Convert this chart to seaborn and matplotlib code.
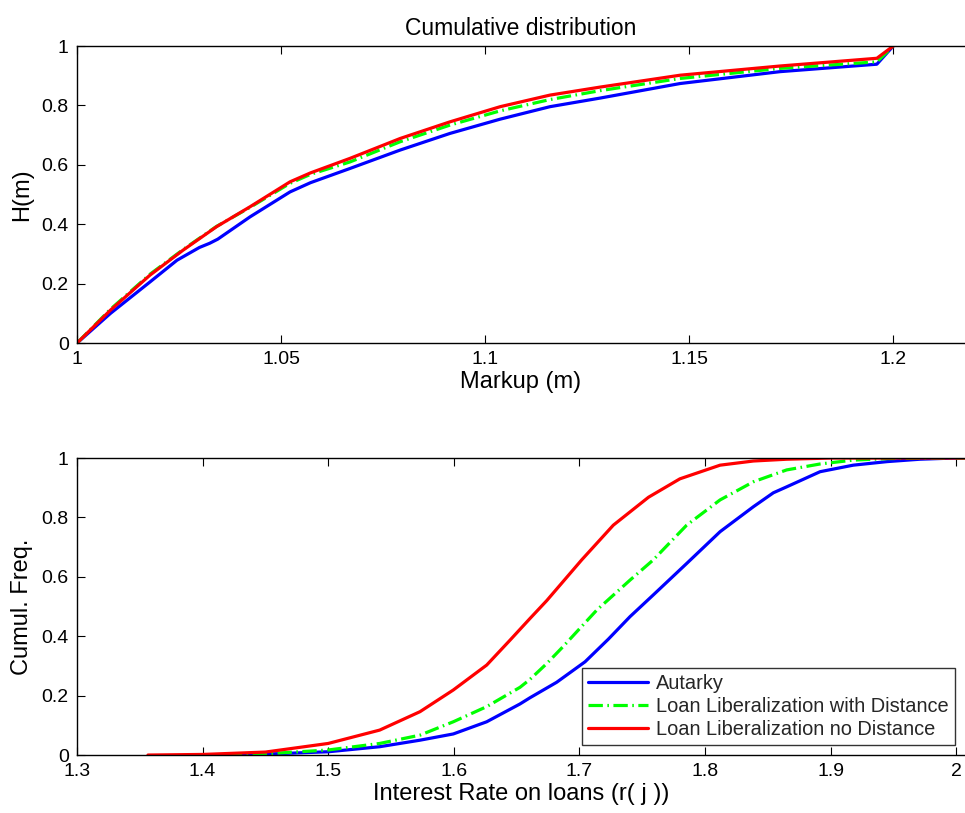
import numpy as np
import pandas as pd
import matplotlib
matplotlib.use("Agg")
import matplotlib.pyplot as plt
import seaborn as sns

# Markup distribution H(m)
markup_autarky = [1.0, 1.0082, 1.0179, 1.0245, 1.030, 1.0325, 1.0345, 1.0424,
                  1.0522, 1.0572, 1.0669, 1.0792, 1.0914, 1.1037, 1.1159, 1.1282,
                  1.1478, 1.1723, 1.196, 1.20]
h_autarky = [0.0, 0.100, 0.206, 0.279, 0.322, 0.336, 0.350, 0.425,
             0.509, 0.540, 0.588, 0.650, 0.706, 0.754, 0.796, 0.825,
             0.874, 0.914, 0.939, 1.0]
markup = [1.0, 1.0082, 1.0179, 1.026, 1.0342, 1.0424, 1.0522, 1.0572, 1.0669,
          1.0792, 1.0914, 1.1037, 1.1159, 1.1282, 1.1478, 1.1723, 1.196, 1.20]
h_with_dist = [0.0, 0.114, 0.232, 0.315, 0.393, 0.457, 0.538, 0.568, 0.610,
               0.678, 0.734, 0.782, 0.820, 0.850, 0.891, 0.925, 0.947, 1.0]
h_no_dist = [0.0, 0.111, 0.229, 0.313, 0.392, 0.459, 0.543, 0.573, 0.622,
             0.689, 0.745, 0.796, 0.835, 0.862, 0.902, 0.933, 0.959, 1.0]

# Interest rate on loans, cumulative frequencies
rate_autarky = [1.42, 1.45, 1.50, 1.541, 1.5731, 1.5996, 1.6262, 1.6527, 1.6607,
                1.6819, 1.7045, 1.723, 1.7403, 1.7588, 1.7854, 1.812, 1.8385,
                1.8544, 1.865, 1.8916, 1.918, 1.945, 1.971, 1.998, 2.01]
f_autarky = [0.0, 0.003, 0.011, 0.028, 0.050, 0.071, 0.112, 0.172, 0.193,
             0.245, 0.314, 0.390, 0.466, 0.539, 0.645, 0.752, 0.836,
             0.883, 0.903, 0.954, 0.976, 0.988, 0.996, 1.0, 1.0]
rate_with_dist = [1.42, 1.45, 1.50, 1.541, 1.5731, 1.5996, 1.6262, 1.6527,
                  1.6607, 1.674, 1.6872, 1.7005, 1.7138, 1.7403, 1.7588, 1.7854,
                  1.812, 1.8385, 1.865, 1.8916, 1.918, 1.945, 1.98, 2.01]
f_with_dist = [0.0, 0.004, 0.017, 0.039, 0.067, 0.112, 0.163, 0.228,
               0.255, 0.308, 0.366, 0.427, 0.488, 0.589, 0.657, 0.774,
               0.859, 0.920, 0.960, 0.980, 0.993, 0.998, 1.0, 1.0]
rate_no_dist = [1.3565, 1.40, 1.45, 1.50, 1.541, 1.5731, 1.5996, 1.6262,
                1.6448, 1.6607, 1.6740, 1.7018, 1.727, 1.755, 1.780, 1.812,
                1.8385, 1.865, 1.90, 1.95, 2.01]
f_no_dist = [0.0, 0.002, 0.010, 0.039, 0.084, 0.146, 0.219, 0.303,
             0.387, 0.460, 0.520, 0.657, 0.774, 0.868, 0.930, 0.976,
             0.990, 0.996, 1.0, 1.0, 1.0]

series_names = ["Autarky", "Loan Liberalization with Distance",
                "Loan Liberalization no Distance"]

top = pd.concat([
    pd.DataFrame({"x": m, "y": h, "series": name})
    for name, m, h in zip(series_names,
                          [markup_autarky, markup, markup],
                          [h_autarky, h_with_dist, h_no_dist])
])
bottom = pd.concat([
    pd.DataFrame({"x": r, "y": f, "series": name})
    for name, r, f in zip(series_names,
                          [rate_autarky, rate_with_dist, rate_no_dist],
                          [f_autarky, f_with_dist, f_no_dist])
])

sns.set_theme(style="white")
plt.rcParams["font.family"] = ["Liberation Sans", "DejaVu Sans"]

palette = {series_names[0]: (0, 0, 1), series_names[1]: (0, 1, 0),
           series_names[2]: (1, 0, 0)}
styles = {series_names[0]: "", series_names[1]: (4.5, 1.4, 0.5, 1.4),
          series_names[2]: ""}

fig = plt.figure(figsize=(9.65, 8.13), dpi=100)
ax1 = fig.add_axes([0.0798, 0.578, 0.9202, 0.3653])
ax2 = fig.add_axes([0.0798, 0.0713, 0.9202, 0.3653])

for ax, df in [(ax1, top), (ax2, bottom)]:
    sns.lineplot(data=df, x="x", y="y", hue="series", style="series",
                 palette=palette, dashes=styles, linewidth=2.3,
                 sort=False, estimator=None, ax=ax, legend=(ax is ax2))
    for side in ["left", "bottom", "top"]:
        ax.spines[side].set_color("black")
        ax.spines[side].set_linewidth(1.0)
    ax.spines["right"].set_visible(False)
    ax.tick_params(direction="in", length=6, width=0.8, colors="black",
                   labelsize=14, top=True, left=True, bottom=True,
                   pad=6)
    ax.set_ylim(0, 1)
    ax.set_yticks([0, 0.2, 0.4, 0.6, 0.8, 1])
    ax.set_yticklabels(["0", "0.2", "0.4", "0.6", "0.8", "1"])

ax1.set_xlim(1.0, 1.2176)
ax1.set_xticks([1.0, 1.05, 1.1, 1.15, 1.2])
ax1.set_xticklabels(["1", "1.05", "1.1", "1.15", "1.2"])
ax1.set_xlabel("Markup (m)", fontsize=17, color="black", labelpad=2)
ax1.set_ylabel("H(m)", fontsize=17, color="black", labelpad=6)
ax1.set_title("Cumulative distribution", fontsize=16.5, color="black", pad=8)

ax2.set_xlim(1.3, 2.007)
ax2.set_xticks([1.3, 1.4, 1.5, 1.6, 1.7, 1.8, 1.9, 2.0])
ax2.set_xticklabels(["1.3", "1.4", "1.5", "1.6", "1.7", "1.8", "1.9", "2"])
ax2.set_xlabel("Interest Rate on loans (r( j ))", fontsize=17, color="black",
               labelpad=2)
ax2.set_ylabel("Cumul. Freq.", fontsize=17, color="black", labelpad=6)

leg = ax2.legend(loc="lower right", fontsize=14.4, frameon=True, fancybox=False,
                 handlelength=3.0, borderpad=0.3, labelspacing=0.2,
                 handletextpad=0.4, borderaxespad=0.5)
leg.get_frame().set_edgecolor("black")
leg.get_frame().set_linewidth(1.0)
for line in leg.get_lines():
    line.set_linewidth(2.3)

fig.savefig("out.png", dpi=100)
